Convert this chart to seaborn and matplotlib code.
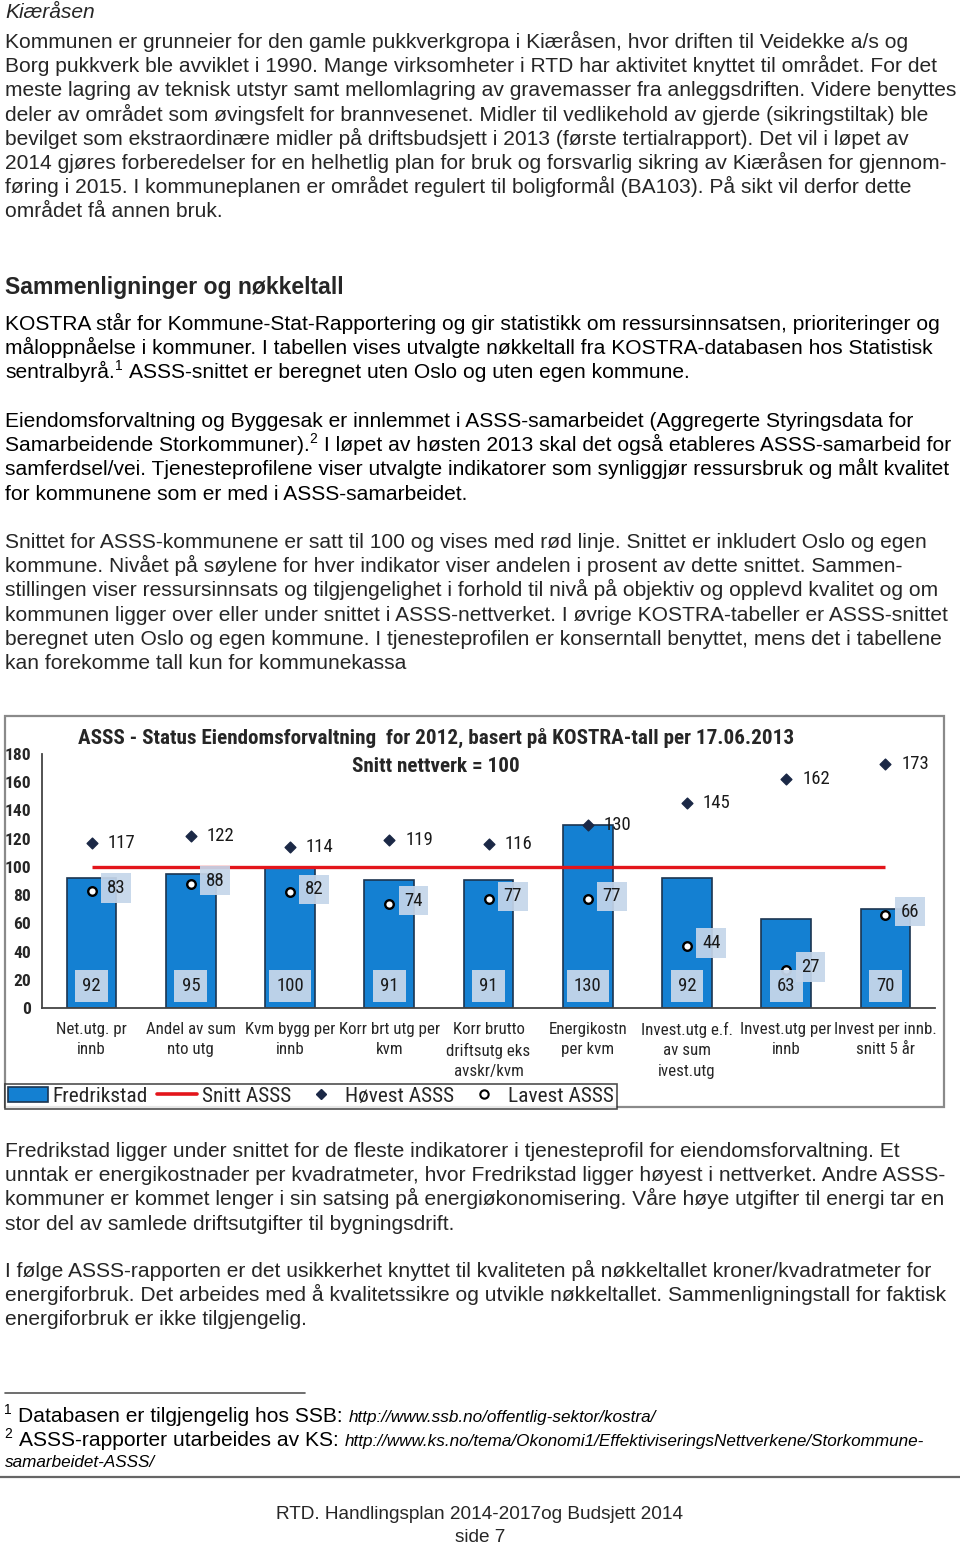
import numpy as np
import pandas as pd
import matplotlib
matplotlib.use("Agg")
import matplotlib.pyplot as plt
import seaborn as sns
from matplotlib import font_manager
from matplotlib.font_manager import FontProperties
from matplotlib.patches import Rectangle, Patch
from matplotlib.lines import Line2D

# ---------------- chart data ----------------
categories = [
    "Net.utg. pr\ninnb",
    "Andel av sum\nnto utg",
    "Kvm bygg per\ninnb",
    "Korr brt utg per\nkvm",
    "Korr brutto\ndriftsutg eks\navskr/kvm",
    "Energikostn\nper kvm",
    "Invest.utg e.f.\nav sum\nivest.utg",
    "Invest.utg per\ninnb",
    "Invest per innb.\nsnitt 5 år",
]
fredrikstad = [92, 95, 100, 91, 91, 130, 92, 63, 70]
hoyest_asss = [117, 122, 114, 119, 116, 130, 145, 162, 173]
lavest_asss = [83, 88, 82, 74, 77, 77, 44, 27, 66]
snitt_asss = 100
y_ticks = [0, 20, 40, 60, 80, 100, 120, 140, 160, 180]
chart_title = "ASSS - Status Eiendomsforvaltning  for 2012, basert på KOSTRA-tall per 17.06.2013"
chart_subtitle = "Snitt nettverk = 100"
legend_labels = ["Fredrikstad", "Snitt ASSS", "Høvest ASSS", "Lavest ASSS"]

# ---------------- page text ----------------
section_title = "Kiæråsen"
para_kiarasen = [
    "Kommunen er grunneier for den gamle pukkverkgropa i Kiæråsen, hvor driften til Veidekke a/s og",
    "Borg pukkverk ble avviklet i 1990. Mange virksomheter i RTD har aktivitet knyttet til området. For det",
    "meste lagring av teknisk utstyr samt mellomlagring av gravemasser fra anleggsdriften. Videre benyttes",
    "deler av området som øvingsfelt for brannvesenet. Midler til vedlikehold av gjerde (sikringstiltak) ble",
    "bevilget som ekstraordinære midler på driftsbudsjett i 2013 (første tertialrapport). Det vil i løpet av",
    "2014 gjøres forberedelser for en helhetlig plan for bruk og forsvarlig sikring av Kiæråsen for gjennom-",
    "føring i 2015. I kommuneplanen er området regulert til boligformål (BA103). På sikt vil derfor dette",
    "området få annen bruk.",
]
heading = "Sammenligninger og nøkkeltall"
para_kostra = [
    [("KOSTRA står for Kommune-Stat-Rapportering og gir statistikk om ressursinnsatsen, prioriteringer og", "n")],
    [("måloppnåelse i kommuner. I tabellen vises utvalgte nøkkeltall fra KOSTRA-databasen hos Statistisk", "n")],
    [("sentralbyrå.", "n"), ("1", "sup"), (" ASSS-snittet er beregnet uten Oslo og uten egen kommune.", "n")],
]
para_asss = [
    [("Eiendomsforvaltning og Byggesak er innlemmet i ASSS-samarbeidet (Aggregerte Styringsdata for", "n")],
    [("Samarbeidende Storkommuner).", "n"), ("2", "sup"),
     (" I løpet av høsten 2013 skal det også etableres ASSS-samarbeid for", "n")],
    [("samferdsel/vei. Tjenesteprofilene viser utvalgte indikatorer som synliggjør ressursbruk og målt kvalitet", "n")],
    [("for kommunene som er med i ASSS-samarbeidet.", "n")],
]
para_snitt = [
    "Snittet for ASSS-kommunene er satt til 100 og vises med rød linje. Snittet er inkludert Oslo og egen",
    "kommune. Nivået på søylene for hver indikator viser andelen i prosent av dette snittet. Sammen-",
    "stillingen viser ressursinnsats og tilgjengelighet i forhold til nivå på objektiv og opplevd kvalitet og om",
    "kommunen ligger over eller under snittet i ASSS-nettverket. I øvrige KOSTRA-tabeller er ASSS-snittet",
    "beregnet uten Oslo og egen kommune. I tjenesteprofilen er konserntall benyttet, mens det i tabellene",
    "kan forekomme tall kun for kommunekassa",
]
para_after1 = [
    "Fredrikstad ligger under snittet for de fleste indikatorer i tjenesteprofil for eiendomsforvaltning. Et",
    "unntak er energikostnader per kvadratmeter, hvor Fredrikstad ligger høyest i nettverket. Andre ASSS-",
    "kommuner er kommet lenger i sin satsing på energiøkonomisering. Våre høye utgifter til energi tar en",
    "stor del av samlede driftsutgifter til bygningsdrift.",
]
para_after2 = [
    "I følge ASSS-rapporten er det usikkerhet knyttet til kvaliteten på nøkkeltallet kroner/kvadratmeter for",
    "energiforbruk. Det arbeides med å kvalitetssikre og utvikle nøkkeltallet. Sammenligningstall for faktisk",
    "energiforbruk er ikke tilgjengelig.",
]
footnotes = [
    [("1", "sup"), (" Databasen er tilgjengelig hos SSB: ", "n"), ("http://www.ssb.no/offentlig-sektor/kostra/", "url")],
    [("2", "sup"), (" ASSS-rapporter utarbeides av KS: ", "n"),
     ("http://www.ks.no/tema/Okonomi1/EffektiviseringsNettverkene/Storkommune-", "url")],
    [("samarbeidet-ASSS/", "url")],
]
footer_lines = ["RTD. Handlingsplan 2014-2017og Budsjett 2014", "side 7"]

# ---------------- fonts ----------------
sns.set_theme(style="white")
ttf = font_manager.fontManager.ttflist
available = {f.name for f in ttf}
BODY = "Liberation Sans" if "Liberation Sans" in available else "DejaVu Sans"
plt.rcParams["font.family"] = [BODY, "DejaVu Sans"]


def _w(f):
    w = f.weight
    if isinstance(w, str):
        w = font_manager.weight_dict.get(w, 400)
    return w


narrow_cands = [f for f in ttf if ("Narrow" in f.name or "Condensed" in f.name
                                   or str(f.stretch) in ("condensed", "semi-condensed", "extra-condensed"))
                and f.style == "normal"]
pref = ["Liberation Sans Narrow", "Roboto Condensed", "Archivo Narrow", "Open Sans Condensed", "Noto Sans",
        "DejaVu Sans Condensed", "DejaVu Sans", "Roboto", "Open Sans"]
narrow_cands.sort(key=lambda f: pref.index(f.name) if f.name in pref else 99)
NARROW_FILES = {}
if narrow_cands:
    nm = narrow_cands[0].name
    same = [f for f in narrow_cands if f.name == nm]
    reg = min(same, key=lambda f: abs(_w(f) - 400))
    bold = min(same, key=lambda f: abs(_w(f) - 700))
    NARROW_FILES = {"reg": reg.fname, "bold": bold.fname}


def cfont(size, bold=False):
    if NARROW_FILES:
        return FontProperties(fname=NARROW_FILES["bold" if bold else "reg"], size=size)
    return FontProperties(family=BODY, weight="bold" if bold else "normal", size=size * 0.84)


BAR = "#1480d2"
EDGE = "#1c3550"
RED = "#e3151b"
NAVY = "#1b2846"
BOX = "#c5d6ea"
BODY_SIZE = 15.1

W, H = 960, 1545
fig = plt.figure(figsize=(W / 100, H / 100), dpi=100)
fig.patch.set_facecolor("white")
renderer = fig.canvas.get_renderer()


def fx(x):
    return x / W


def fy(y):
    return 1 - y / H


STYLES = {
    "n": dict(fontsize=BODY_SIZE, style="normal"),
    "sup": dict(fontsize=10, style="normal"),
    "url": dict(fontsize=12.3, style="italic"),
}
RAISE = {"n": 0, "sup": 8, "url": 0}


def space_width(size, style):
    a = fig.text(0, 0, "a a", fontsize=size, style=style, family=BODY)
    b = fig.text(0, 0, "aa", fontsize=size, style=style, family=BODY)
    w = a.get_window_extent(renderer).width - b.get_window_extent(renderer).width
    a.remove()
    b.remove()
    return w


def draw_parts(x, yc, parts):
    base = yc + 6
    for txt, kind in parts:
        st = STYLES[kind]
        sw = space_width(st["fontsize"], st["style"])
        lead = len(txt) - len(txt.lstrip(" "))
        trail = len(txt) - len(txt.rstrip(" "))
        x += lead * sw
        core = txt.strip(" ")
        t = fig.text(fx(x), fy(base - RAISE[kind]), core, fontsize=st["fontsize"], style=st["style"],
                     family=BODY, va="baseline", ha="left", color="black")
        x += t.get_window_extent(renderer).width + trail * sw
        if kind == "sup":
            x += 1


def draw_lines(lines, y0, pitch=24.2, x=5):
    for i, line in enumerate(lines):
        yc = y0 + i * pitch
        if isinstance(line, str):
            fig.text(fx(x), fy(yc + 6), line, fontsize=BODY_SIZE, family=BODY, va="baseline", ha="left")
        else:
            draw_parts(x, yc, line)


# ---------------- page text ----------------
fig.text(fx(5), fy(18), section_title, fontsize=BODY_SIZE, style="italic", family=BODY, va="baseline")
draw_lines(para_kiarasen, 42)
fig.text(fx(5), fy(294), heading, fontsize=16.6, weight="bold", family=BODY, va="baseline")
draw_lines(para_kostra, 324)
draw_lines(para_asss, 421)
draw_lines(para_snitt, 542)
draw_lines(para_after1, 1151)
draw_lines(para_after2, 1271)

fig.add_artist(Line2D([fx(5), fx(305)], [fy(1393), fy(1393)], transform=fig.transFigure, color="#555", lw=1.2))
draw_parts(4, 1416, footnotes[0])
draw_parts(4, 1440, footnotes[1])
draw_parts(5, 1461, footnotes[2])
fig.add_artist(Line2D([0, 1], [fy(1477), fy(1477)], transform=fig.transFigure, color="#666", lw=1.6))
for i, line in enumerate(footer_lines):
    fig.text(0.5, fy(1519 + i * 23.5), line, fontsize=13.7, family=BODY, ha="center", va="baseline")

# ---------------- chart ----------------
fig.add_artist(Rectangle((fx(5), fy(1107)), fx(944) - fx(5), fy(716) - fy(1107),
                         transform=fig.transFigure, fill=False, edgecolor="#8a8a8a", lw=1.6))

ax = fig.add_axes([fx(42), fy(1008), fx(935) - fx(42), fy(754) - fy(1008)])
ax.set_facecolor("none")
df = pd.DataFrame({"Indikator": categories, "Fredrikstad": fredrikstad})
sns.barplot(data=df, x="Indikator", y="Fredrikstad", color=BAR, saturation=1, width=0.5,
            edgecolor=EDGE, linewidth=1.2, ax=ax, zorder=2)

pos = np.arange(len(categories))
ax.hlines(snitt_asss, pos[0], pos[-1], color=RED, lw=2.4, zorder=3)
ax.scatter(pos, hoyest_asss, marker="D", s=30, color=NAVY, zorder=5)
ax.scatter(pos, lavest_asss, marker="o", s=38, facecolor="white", edgecolor="black", linewidth=1.7, zorder=5)

for p, v in zip(pos, hoyest_asss):
    ax.annotate(f"{v}", (p, v), xytext=(16, 0), textcoords="offset pixels", ha="left", va="center",
                fontproperties=cfont(13.5), color="#1a1a1a", zorder=6)
for p, v in zip(pos, lavest_asss):
    ax.annotate(f"{v}", (p, v), xytext=(15, 3), textcoords="offset pixels", ha="left", va="center",
                fontproperties=cfont(13.5), color="#1a1a1a", zorder=6,
                bbox=dict(boxstyle="square,pad=0.3", fc=BOX, ec="none", alpha=0.92))
for p, v in zip(pos, fredrikstad):
    ax.annotate(f"{v}", (p, 0), xytext=(0, 22), textcoords="offset pixels", ha="center", va="center",
                fontproperties=cfont(13.5), color="#1a1a1a", zorder=6,
                bbox=dict(boxstyle="square,pad=0.38", fc=BOX, ec="none", alpha=0.95))

ax.set_xlim(-0.5, len(categories) - 0.5)
ax.set_ylim(0, 180)
ax.set_yticks(y_ticks)
ax.set_xlabel("")
ax.set_ylabel("")
sns.despine(ax=ax)
for s in ("left", "bottom"):
    ax.spines[s].set_color("#444")
    ax.spines[s].set_linewidth(1.3)
ax.tick_params(axis="y", direction="out", length=5, width=1.2, color="#444", pad=3)
ax.set_yticklabels([str(t) for t in y_ticks])
for lab in ax.get_yticklabels():
    lab.set_fontproperties(cfont(12.5, bold=True))
ax.set_xticks(pos)
ax.set_xticklabels(categories, linespacing=1.45)
for lab in ax.get_xticklabels():
    lab.set_fontproperties(cfont(12.2))
ax.tick_params(axis="x", which="major", length=0, pad=10)
ax.set_xticks(np.arange(len(categories) + 1) - 0.5, minor=True)
ax.tick_params(axis="x", which="minor", length=6, width=1.2, color="#444", direction="out")
ax.grid(False)

fig.text(fx(436), fy(738), chart_title, ha="center", va="center", fontproperties=cfont(15.2, bold=True))
fig.text(fx(436), fy(767), chart_subtitle, ha="center", va="center", fontproperties=cfont(15.2, bold=True))

handles = [
    Patch(facecolor=BAR, edgecolor=EDGE, linewidth=1.2),
    Line2D([], [], color=RED, lw=2.6),
    Line2D([], [], marker="D", ls="none", color=NAVY, markersize=5),
    Line2D([], [], marker="o", ls="none", markerfacecolor="white", markeredgecolor="black",
           markeredgewidth=1.5, markersize=6),
]
leg = fig.legend(handles, legend_labels, loc="lower left", bbox_to_anchor=(fx(5), fy(1109)), ncol=4,
                 frameon=True, fancybox=False, edgecolor="#222", prop=cfont(15.4),
                 handlelength=1.87, handletextpad=0.2, columnspacing=0.45, borderpad=0.15, borderaxespad=0)
leg.get_frame().set_linewidth(1.2)

fig.savefig("out.png", dpi=100, facecolor="white")
